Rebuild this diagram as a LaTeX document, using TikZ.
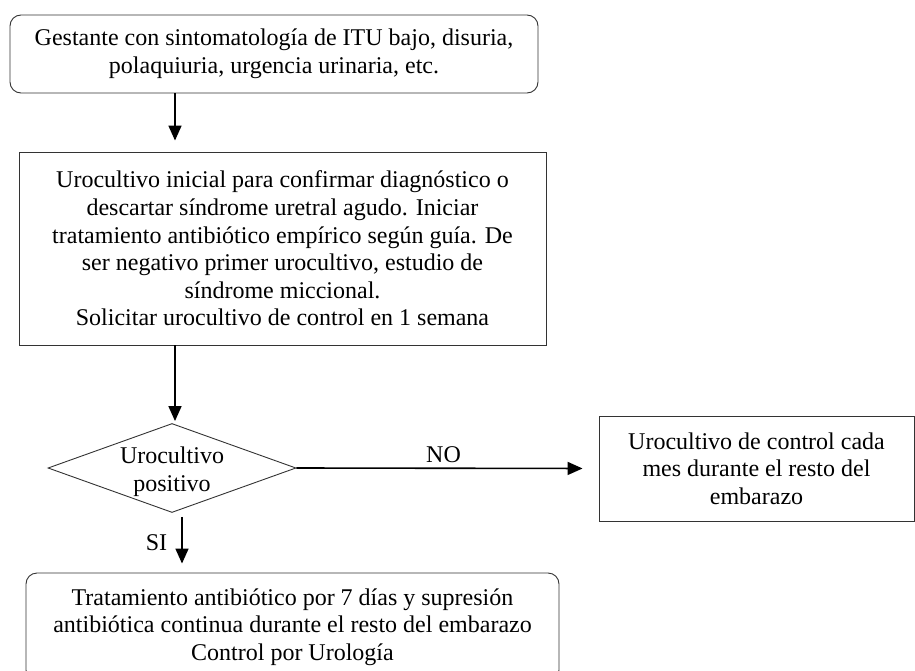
\documentclass[tikz,border=0pt]{standalone}
\usepackage{fontspec}
\setmainfont{Liberation Serif}
\usetikzlibrary{shapes.geometric,arrows.meta}
\tikzset{
 texto/.style={align=center,inner sep=0pt,font=\fontsize{24}{27.6}\selectfont},
 caja/.style={texto,draw=black!80,line width=0.9pt,rectangle},
 cajaredonda/.style={caja,rounded corners=11pt},
 decision/.style={draw=black!80,line width=0.9pt,diamond,minimum width=248pt,minimum height=89pt,inner sep=0pt},
 flecha/.style={line width=1.6pt,-{Triangle[length=15pt,width=13pt]}}
}
\begin{document}
\begin{tikzpicture}[x=1pt,y=-1pt]
 \useasboundingbox (0,0) rectangle (915,671);
 \node[cajaredonda,minimum width=528pt,minimum height=78pt] (inicio) at (274,54) {Gestante con sintomatología de ITU bajo, disuria,\\polaquiuria, urgencia urinaria, etc.};
 \node[caja,minimum width=527pt,minimum height=193pt] (cultivo) at (282.5,248.5) {Urocultivo inicial para confirmar diagnóstico o\\descartar síndrome uretral agudo. Iniciar\\tratamiento antibiótico empírico según guía. De\\ser negativo primer urocultivo, estudio de\\síndrome miccional.\\Solicitar urocultivo de control en 1 semana};
 \node[decision] (positivo) at (172,468) {};
 \node[texto] (positivotxt) at (172,472) {Urocultivo\\positivo};
 \node[caja,minimum width=315pt,minimum height=105pt] (control) at (756.5,468.5) {Urocultivo de control cada\\mes durante el resto del\\embarazo};
 \node[cajaredonda,minimum width=533pt,minimum height=108pt] (tratamiento) at (292.5,627) {Tratamiento antibiótico por 7 días y supresión\\antibiótica continua durante el resto del embarazo\\Control por Urología};
 % conectores
 \coordinate (eje) at ([xshift=3pt]positivo.north);
 \coordinate (ejesi) at ([xshift=10pt]positivo.south);
 \draw[flecha,shorten >=11pt] (inicio.south -| eje) -- (cultivo.north -| eje);
 \draw[flecha,shorten >=2pt] (cultivo.south -| eje) -- (eje);
 \draw[flecha,shorten >=16pt] (positivo.east) -- node[texto,above=5pt,xshift=-4pt] {NO} (control.west);
 \draw[flecha,shorten <=4pt,shorten >=9pt] (ejesi) -- node[texto,left=14pt] {SI} (ejesi |- tratamiento.north);
\end{tikzpicture}
\end{document}
